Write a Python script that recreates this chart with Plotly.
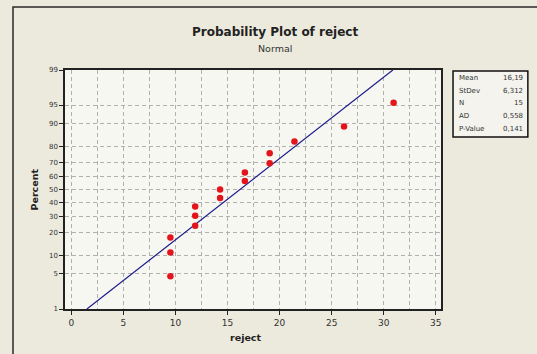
import plotly.graph_objects as go
from statistics import NormalDist, mean, stdev

# Data (reject values)
reject = [9.52, 9.52, 9.52, 11.90, 11.90, 11.90, 14.29, 14.29,
          16.67, 16.67, 19.05, 19.05, 21.43, 26.19, 30.95]
pct_ticks = [1, 5, 10, 20, 30, 40, 50, 60, 70, 80, 90, 95, 99]
x_ticks = [0, 5, 10, 15, 20, 25, 30, 35]
stats_labels = ["Mean", "StDev", "N", "AD", "P-Value"]
stats_values = ["16,19", "6,312", "15", "0,558", "0,141"]

nd = NormalDist()
n = len(reject)
xs = sorted(reject)
# Median ranks (Minitab default)
pz = [nd.inv_cdf((i - 0.3) / (n + 0.4)) for i in range(1, n + 1)]
m, s = mean(reject), stdev(reject)
zlo, zhi = nd.inv_cdf(0.01), nd.inv_cdf(0.99)
line_z = [zlo, zhi]
line_x = [m + z * s for z in line_z]

fig = go.Figure()
fig.add_trace(go.Scatter(x=line_x, y=line_z, mode="lines",
                         line=dict(color="#1c1c8a", width=1.2), hoverinfo="skip"))
fig.add_trace(go.Scatter(x=xs, y=pz, mode="markers",
                         marker=dict(color="#e3141b", size=6.5)))

grid = dict(gridcolor="#b0b0b0", gridwidth=1, griddash="4px,3px")
fig.update_layout(
    width=537, height=354,
    margin=dict(l=65, r=96, t=70, b=45),
    paper_bgcolor="#ece9dd",
    plot_bgcolor="#f6f7f1",
    showlegend=False,
    font=dict(family="DejaVu Sans", color="#222222"),
    xaxis=dict(range=[-0.6, 35.5], tickvals=x_ticks, ticks="outside", ticklen=4,
               tickcolor="#222", tickwidth=1,
               showline=True, linecolor="#222", linewidth=1.5, mirror=True,
               showgrid=True, **grid,
               minor=dict(dtick=2.5, showgrid=True, **grid),
               zeroline=False, tickfont=dict(family="DejaVu Sans", size=9, color="#333")),
    yaxis=dict(range=[zlo, zhi], tickvals=[nd.inv_cdf(p / 100) for p in pct_ticks],
               ticktext=[str(p) for p in pct_ticks], ticks="outside", ticklen=4,
               tickcolor="#222", tickwidth=1,
               showline=True, linecolor="#222", linewidth=1.5, mirror=True,
               showgrid=True, **grid,
               zeroline=False, tickfont=dict(family="DejaVu Sans", size=7, color="#333")),
)

# Outer frame
fig.add_shape(type="rect", xref="paper", yref="paper", x0=-0.1383, x1=1.35, y0=-0.3, y1=1.2636,
              line=dict(color="#2a2a2a", width=1.5), fillcolor="rgba(0,0,0,0)", layer="below")

fig.add_annotation(text="<b>Probability Plot of reject</b>", xref="paper", yref="paper",
                   x=0.5585, y=1.159, yanchor="middle", showarrow=False,
                   font=dict(size=12, color="#222"))
fig.add_annotation(text="Normal", xref="paper", yref="paper",
                   x=0.5585, y=1.092, yanchor="middle", showarrow=False,
                   font=dict(size=9.5, color="#333"))
fig.add_annotation(text="<b>Percent</b>", xref="paper", yref="paper", textangle=-90,
                   x=-0.0824, y=0.5, xanchor="center", yanchor="middle", showarrow=False,
                   font=dict(size=9.5, color="#222"))
fig.add_annotation(text="<b>reject</b>", xref="paper", yref="paper",
                   x=0.481, y=-0.121, yanchor="middle", showarrow=False,
                   font=dict(size=9.5, color="#222"))

# Stats box
fig.add_shape(type="rect", xref="paper", yref="paper", x0=1.032, x1=1.231, y0=0.7197, y1=0.996,
              line=dict(color="#111", width=1.5), fillcolor="#f4f3ee")
row_y = [78, 91, 103, 116, 129]
for lab, val, py in zip(stats_labels, stats_values, row_y):
    yy = (309 - py) / 239
    fig.add_annotation(text=lab, xref="paper", yref="paper", x=(457 - 65) / 376, y=yy,
                       xanchor="left", yanchor="middle", showarrow=False,
                       font=dict(size=7, color="#333"))
    fig.add_annotation(text=val, xref="paper", yref="paper", x=(525 - 65) / 376, y=yy,
                       xanchor="right", yanchor="middle", showarrow=False,
                       font=dict(size=7, color="#333"))

fig.write_html("out.html")
